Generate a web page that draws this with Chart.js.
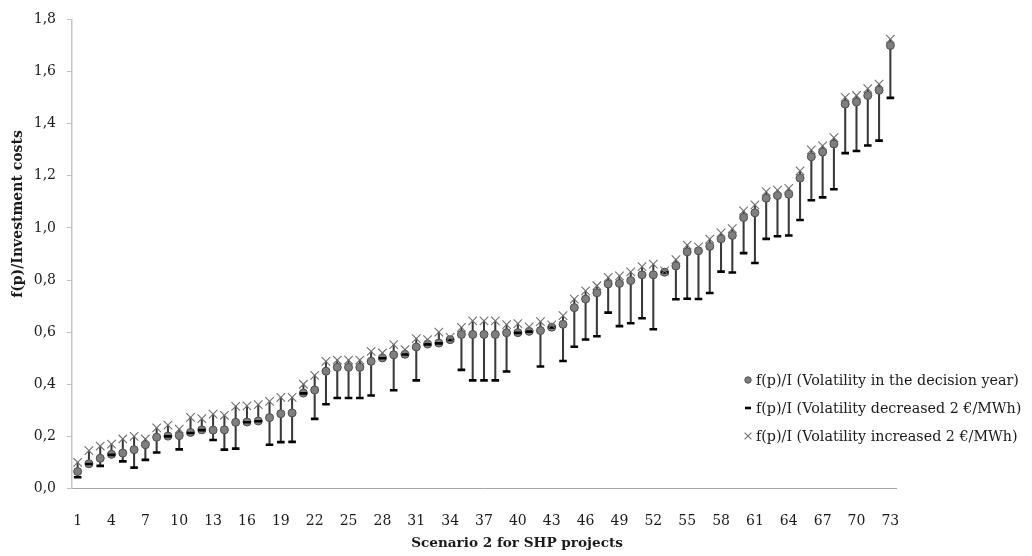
<!DOCTYPE html>
<html>
<head>
<meta charset="utf-8">
<script src="https://cdn.jsdelivr.net/npm/chart.js@4/dist/chart.umd.min.js"></script>
<style>
  html, body { margin: 0; padding: 0; background: #ffffff; }
  #wrap { width: 1032px; height: 556px; position: relative; }
</style>
</head>
<body>
<div id="wrap"><canvas id="chart"></canvas></div>
<script>
// SHP projects, numbered along the category axis
const projects = [
  '1','2','3','4','5','6','7','8','9','10','11','12','13','14','15','16','17','18','19','20',
  '21','22','23','24','25','26','27','28','29','30','31','32','33','34','35','36','37','38','39','40',
  '41','42','43','44','45','46','47','48','49','50','51','52','53','54','55','56','57','58','59','60',
  '61','62','63','64','65','66','67','68','69','70','71','72','73'
];

// f(p)/I with the volatility of the decision year
const baseVolatility = [
  0.065, 0.095, 0.116, 0.131, 0.136, 0.149, 0.168, 0.197, 0.201, 0.203,
  0.215, 0.225, 0.224, 0.225, 0.254, 0.255, 0.259, 0.272, 0.287, 0.290,
  0.366, 0.378, 0.450, 0.465, 0.465, 0.465, 0.488, 0.501, 0.513, 0.515,
  0.543, 0.554, 0.558, 0.571, 0.591, 0.591, 0.591, 0.591, 0.598, 0.598,
  0.603, 0.606, 0.619, 0.630, 0.694, 0.727, 0.751, 0.785, 0.787, 0.798,
  0.820, 0.820, 0.830, 0.854, 0.908, 0.912, 0.929, 0.958, 0.971, 1.040,
  1.058, 1.114, 1.124, 1.129, 1.191, 1.273, 1.291, 1.322, 1.475, 1.483,
  1.508, 1.528, 1.700
];

// f(p)/I with volatility decreased by 2 EUR/MWh
const decreasedVolatility = [
  0.043, 0.094, 0.087, 0.129, 0.104, 0.080, 0.110, 0.138, 0.200, 0.150,
  0.213, 0.224, 0.186, 0.149, 0.153, 0.254, 0.258, 0.168, 0.178, 0.179,
  0.365, 0.267, 0.323, 0.347, 0.347, 0.347, 0.357, 0.500, 0.377, 0.514,
  0.415, 0.553, 0.557, 0.570, 0.455, 0.415, 0.415, 0.415, 0.449, 0.597,
  0.602, 0.468, 0.618, 0.489, 0.544, 0.572, 0.584, 0.675, 0.623, 0.634,
  0.653, 0.611, 0.829, 0.726, 0.728, 0.727, 0.750, 0.832, 0.829, 0.903,
  0.865, 0.958, 0.968, 0.971, 1.030, 1.106, 1.117, 1.148, 1.287, 1.295,
  1.316, 1.335, 1.499
];

// f(p)/I with volatility increased by 2 EUR/MWh
const increasedVolatility = [
  0.100, 0.145, 0.163, 0.170, 0.190, 0.200, 0.190, 0.233, 0.243, 0.228,
  0.273, 0.268, 0.285, 0.281, 0.315, 0.317, 0.322, 0.334, 0.350, 0.350,
  0.400, 0.434, 0.488, 0.493, 0.493, 0.493, 0.526, 0.520, 0.552, 0.533,
  0.575, 0.571, 0.600, 0.580, 0.618, 0.643, 0.643, 0.643, 0.629, 0.633,
  0.620, 0.640, 0.628, 0.663, 0.727, 0.758, 0.778, 0.810, 0.816, 0.831,
  0.851, 0.861, 0.835, 0.878, 0.934, 0.927, 0.957, 0.981, 0.997, 1.065,
  1.088, 1.139, 1.145, 1.152, 1.219, 1.299, 1.315, 1.346, 1.501, 1.508,
  1.534, 1.552, 1.724
];

const seriesNames = [
  'f(p)/I (Volatility in the decision year)',
  'f(p)/I (Volatility decreased 2 \u20AC/MWh)',
  'f(p)/I (Volatility increased 2 \u20AC/MWh)'
];

const axisTitles = {
  x: 'Scenario 2 for SHP projects',
  y: 'f(p)/Investment costs'
};

// high-low line for every project: from the lowest to the highest estimate
const highLow = projects.map((_, i) => [
  Math.min(decreasedVolatility[i], baseVolatility[i]),
  Math.max(increasedVolatility[i], baseVolatility[i])
]);

const TEXT = '#1a1a1a';
const SERIF = '"DejaVu Serif", "Liberation Serif", serif';

// Legend inside the plot and the two axis titles
const annotations = {
  id: 'annotations',
  afterDraw(chart) {
    const ctx = chart.ctx;
    const H = Chart.helpers;
    ctx.save();

    // y axis title
    ctx.fillStyle = TEXT;
    ctx.font = 'bold 14px ' + SERIF;
    ctx.textAlign = 'center';
    ctx.textBaseline = 'middle';
    ctx.save();
    ctx.translate(18, 214);
    ctx.rotate(-Math.PI / 2);
    ctx.fillText(axisTitles.y, 0, 0);
    ctx.restore();

    // x axis title
    ctx.font = 'bold 13.6px ' + SERIF;
    ctx.fillText(axisTitles.x, 517, 543);

    // legend
    const rows = [
      { ds: 1, y: 380 },
      { ds: 2, y: 408 },
      { ds: 3, y: 436 }
    ];
    ctx.font = '14.3px ' + SERIF;
    ctx.textAlign = 'left';
    rows.forEach(r => {
      const d = chart.data.datasets[r.ds];
      ctx.fillStyle = d.backgroundColor;
      ctx.strokeStyle = d.borderColor;
      ctx.lineWidth = d.borderWidth;
      H.drawPoint(ctx, {
        pointStyle: d.pointStyle,
        radius: d.pointRadius * 0.8,
        borderWidth: d.borderWidth,
        rotation: 0
      }, 748, r.y);
      ctx.fillStyle = TEXT;
      ctx.fillText(d.label, 756, r.y + 1);
    });
    ctx.restore();
  }
};

new Chart(document.getElementById('chart'), {
  type: 'bar',
  data: {
    labels: projects,
    datasets: [
      {
        type: 'bar',
        label: 'range',
        data: highLow,
        backgroundColor: '#3a3a3a',
        borderWidth: 0,
        barThickness: 1.4,
        order: 3
      },
      {
        type: 'line',
        label: seriesNames[0],
        data: baseVolatility,
        showLine: false,
        pointStyle: 'circle',
        pointRadius: 4,
        backgroundColor: '#7f7f7f',
        borderColor: '#4d4d4d',
        borderWidth: 1,
        order: 2
      },
      {
        type: 'line',
        label: seriesNames[1],
        data: decreasedVolatility,
        showLine: false,
        pointStyle: 'line',
        pointRadius: 3.8,
        backgroundColor: '#000000',
        borderColor: '#000000',
        borderWidth: 2.6,
        order: 1
      },
      {
        type: 'line',
        label: seriesNames[2],
        data: increasedVolatility,
        showLine: false,
        pointStyle: 'crossRot',
        pointRadius: 6,
        backgroundColor: '#707070',
        borderColor: '#707070',
        borderWidth: 1.1,
        order: 0
      }
    ]
  },
  options: {
    responsive: true,
    maintainAspectRatio: false,
    animation: false,
    events: [],
    layout: { padding: { left: 0, right: 136, top: 15, bottom: 0 } },
    plugins: {
      legend: { display: false },
      tooltip: { enabled: false },
      title: { display: false }
    },
    scales: {
      x: {
        type: 'category',
        offset: true,
        grid: { display: false },
        border: { display: true, color: '#a6a6a6', width: 1 },
        ticks: {
          autoSkip: false,
          maxRotation: 0,
          minRotation: 0,
          padding: 16,
          color: TEXT,
          font: { family: SERIF, size: 14 },
          callback: function (value, index) {
            return index % 3 === 0 ? this.getLabelForValue(value) : '';
          }
        },
        afterFit(scale) { scale.height = 67.5; }
      },
      y: {
        min: 0,
        max: 1.8,
        grid: {
          display: true,
          drawOnChartArea: false,
          drawTicks: true,
          tickLength: 5,
          color: '#bfbfbf'
        },
        border: { display: true, color: '#c6c6c6', width: 1.5 },
        ticks: {
          stepSize: 0.2,
          padding: 11,
          color: TEXT,
          font: { family: SERIF, size: 14 },
          callback: (v) => v.toFixed(1).replace('.', ',')
        },
        afterFit(scale) { scale.width = 72; }
      }
    }
  },
  plugins: [annotations]
});
</script>
</body>
</html>
